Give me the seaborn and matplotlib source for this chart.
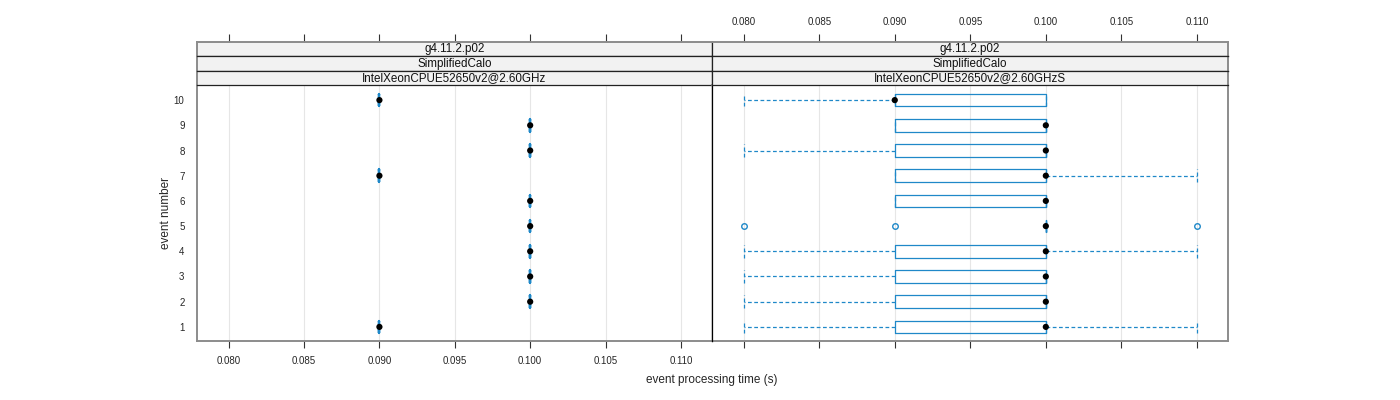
import matplotlib
matplotlib.use("Agg")
import matplotlib.pyplot as plt
import numpy as np
import pandas as pd
import seaborn as sns

# ---- data -------------------------------------------------------------
events = [1, 2, 3, 4, 5, 6, 7, 8, 9, 10]

# left panel: one timing per event
left_times = [0.090, 0.100, 0.100, 0.100, 0.100, 0.100, 0.090, 0.100, 0.100, 0.090]

# right panel: repeated runs per event
right_runs = [
    [0.080, 0.090, 0.100, 0.100, 0.110],                               # 1
    [0.080, 0.090, 0.100, 0.100, 0.100],                               # 2
    [0.080, 0.090, 0.100, 0.100, 0.100],                               # 3
    [0.080, 0.090, 0.100, 0.100, 0.110],                               # 4
    [0.080, 0.090, 0.100, 0.100, 0.100, 0.100, 0.100, 0.100, 0.110],   # 5
    [0.090, 0.090, 0.100, 0.100, 0.100],                               # 6
    [0.090, 0.090, 0.100, 0.100, 0.110],                               # 7
    [0.080, 0.090, 0.100, 0.100, 0.100],                               # 8
    [0.090, 0.090, 0.100, 0.100, 0.100],                               # 9
    [0.080, 0.090, 0.090, 0.100, 0.100],                               # 10
]

strip_labels = [
    ["g4.11.2.p02", "SimplifiedCalo", "IntelXeonCPUE52650v2@2.60GHz"],
    ["g4.11.2.p02", "SimplifiedCalo", "IntelXeonCPUE52650v2@2.60GHzS"],
]
x_ticks = [0.080, 0.085, 0.090, 0.095, 0.100, 0.105, 0.110]

# ---- long-form tables -------------------------------------------------
left_df = pd.DataFrame({"event": events, "time": left_times})
right_df = pd.DataFrame(
    [(ev, t) for ev, runs in zip(events, right_runs) for t in runs],
    columns=["event", "time"],
)

sns.set_theme(style="white")
plt.rcParams["font.family"] = ["Liberation Sans", "DejaVu Sans"]

BLUE = "#1f88c8"
FRAME = "#8c8c8c"
XLIM = (0.0779, 0.11206)
YLIM = (0.44, 10.6)

W, H = 1400, 400
fig = plt.figure(figsize=(14, 4), dpi=100)


def fx(px):
    return px / W


def fy(py):
    return 1 - py / H


panel_x = [(197, 712), (712, 1228)]
panel_top, panel_bot = 85, 341
strip_top = 42
strip_h = (panel_top - strip_top) / 3

axes = []
for i, (x0, x1) in enumerate(panel_x):
    ax = fig.add_axes([fx(x0), fy(panel_bot), fx(x1 - x0), fy(panel_top) - fy(panel_bot)])
    axes.append(ax)
    df = left_df if i == 0 else right_df

    for t in x_ticks:
        ax.axvline(t, color="#e6e6e6", lw=0.8, zorder=0)

    sns.boxplot(
        data=df, x="time", y="event", orient="y", native_scale=True,
        ax=ax, color=BLUE, fill=False, width=0.5,
        linewidth=1.6 if i == 0 else 0.9,
        whis=1.5, capwidths=0.5,
        whiskerprops=dict(linestyle=(0, (3, 2)), color=BLUE),
        capprops=dict(linestyle=(0, (3, 2)), color=BLUE),
        medianprops=dict(color=BLUE),
        flierprops=dict(marker="o", markersize=4, markerfacecolor="none",
                        markeredgecolor=BLUE, markeredgewidth=1.0),
    )
    med = df.groupby("event", as_index=False)["time"].median()
    sns.scatterplot(data=med, x="time", y="event", ax=ax, color="black",
                    s=20, edgecolor="none", zorder=5)

    ax.set_xlim(*XLIM)
    ax.set_ylim(*YLIM)
    ax.set_xticks(x_ticks)
    ax.set_yticks(events)
    ax.set_xlabel("")
    ax.set_ylabel("")
    ax.tick_params(axis="x", direction="out", length=5, width=0.8,
                   color="#333333", labelsize=7, pad=6,
                   bottom=True, labelbottom=(i == 0))
    ax.tick_params(axis="y", length=0, labelsize=7, pad=9,
                   left=False, labelleft=(i == 0))
    ax.xaxis.set_major_formatter(matplotlib.ticker.FormatStrFormatter("%.3f"))
    for side, sp in ax.spines.items():
        sp.set_visible(True)
        sp.set_color(FRAME)
        sp.set_linewidth(1.4)
    if i == 0:
        ax.spines["right"].set_color("black")
        ax.spines["right"].set_linewidth(0.9)
    else:
        ax.spines["left"].set_color("black")
        ax.spines["left"].set_linewidth(0.9)
        ax.spines["left"].set_zorder(6)

    # strips
    for k, label in enumerate(strip_labels[i]):
        top = strip_top + k * strip_h
        sax = fig.add_axes([fx(x0), fy(top + strip_h), fx(x1 - x0), strip_h / H])
        sax.set_facecolor("#f2f2f2")
        sax.set_xlim(*XLIM)
        sax.set_ylim(0, 1)
        sax.set_yticks([])
        sax.text(0.5, 0.5, label, transform=sax.transAxes, ha="center",
                 va="center", fontsize=8.4, color="#111111")
        for side, sp in sax.spines.items():
            sp.set_color("#222222")
            sp.set_linewidth(0.9)
        if i == 0:
            sax.spines["left"].set_color(FRAME)
            sax.spines["left"].set_linewidth(1.4)
        else:
            sax.spines["right"].set_color(FRAME)
            sax.spines["right"].set_linewidth(1.4)
        if k == 0:
            sax.spines["top"].set_color(FRAME)
            sax.spines["top"].set_linewidth(1.4)
            sax.set_xticks(x_ticks)
            sax.xaxis.set_major_formatter(matplotlib.ticker.FormatStrFormatter("%.3f"))
            sax.tick_params(axis="x", direction="out", length=6, width=0.8,
                            color="#333333", labelsize=7, pad=5,
                            bottom=False, labelbottom=False,
                            top=True, labeltop=(i == 1))
        else:
            sax.set_xticks([])

fig.text(fx(712), fy(380), "event processing time (s)", ha="center",
         va="center", fontsize=8.5)
fig.text(fx(166), fy(213), "event number", ha="center", va="center",
         rotation=90, fontsize=8.5)

fig.savefig("out.png", dpi=100)
